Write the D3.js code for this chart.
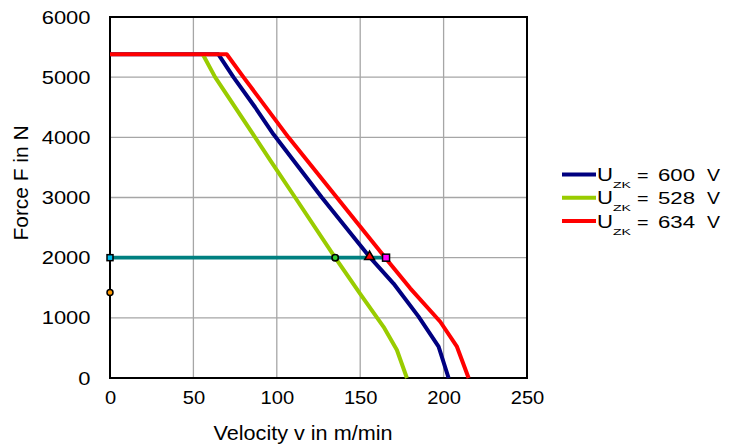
<!DOCTYPE html>
<html><head><meta charset="utf-8">
<script src="https://cdn.jsdelivr.net/npm/d3@7/dist/d3.min.js"></script>
<style>
html,body{margin:0;padding:0;background:#fff;}
svg{display:block;font-family:"Liberation Sans",Arial,sans-serif;}
</style></head>
<body>
<svg id="c" width="754" height="448"></svg>
<script>
// ---- data ----
const xTicks = [0, 50, 100, 150, 200, 250];
const yTicks = [0, 1000, 2000, 3000, 4000, 5000, 6000];
const seriesVolts = ["600", "528", "634"];
const seriesColors = ["#000080", "#99cc00", "#ff0000"];
const v600 = [0, 65, 74, 87, 98, 127, 156, 170, 185, 197, 203];
const F600 = [5380, 5380, 5000, 4500, 4050, 3000, 2000, 1570, 1020, 520, 0];
const v528 = [55.6, 63, 87, 96, 111, 135, 150, 164, 172, 178];
const F528 = [5380, 5000, 4000, 3620, 3000, 2000, 1400, 850, 465, 0];
const v634 = [0, 70, 80, 107, 136, 165, 180, 198, 208, 215];
const F634 = [5380, 5380, 5000, 4000, 3000, 2000, 1490, 935, 520, 0];
const opForce = 2000;
const opVel = [0, 165.5];
const markerV = [0, 0, 135, 155.6, 165.5];
const markerF = [2000, 1420, 2000, 2000, 2000];

// ---- layout ----
const svg = d3.select("#c");
const L = 110, R = 527, T = 17, B = 378;
const x = d3.scaleLinear().domain([0, 250]).range([L, R]);
const y = d3.scaleLinear().domain([0, 6000]).range([B, T]);

// grid
const g = svg.append("g");
g.selectAll(".gx").data(xTicks.slice(1, -1)).enter().append("line")
  .attr("x1", d => x(d)).attr("x2", d => x(d)).attr("y1", T).attr("y2", B)
  .attr("stroke", "#a6a6a6").attr("stroke-width", 1.3);
g.selectAll(".gy").data(yTicks.slice(1, -1)).enter().append("line")
  .attr("y1", d => y(d)).attr("y2", d => y(d)).attr("x1", L).attr("x2", R)
  .attr("stroke", "#a6a6a6").attr("stroke-width", 1.3);

// frame
svg.append("rect").attr("x", L).attr("y", T).attr("width", R - L).attr("height", B - T)
  .attr("fill", "none").attr("stroke", "#000").attr("stroke-width", 2);

// axes labels via d3 axes
const ax = svg.append("g").attr("transform", `translate(0,${B})`)
  .call(d3.axisBottom(x).tickValues(xTicks).tickSize(0).tickPadding(12.5).tickFormat(d3.format("d")));
ax.select(".domain").remove();
ax.selectAll("text").attr("font-size", 19).attr("fill", "#000")
  .attr("font-family", "Liberation Sans, Arial, sans-serif")
  .attr("textLength", d => String(d).length * 11.2).attr("lengthAdjust", "spacingAndGlyphs");

const ay = svg.append("g").attr("transform", `translate(${L},0)`)
  .call(d3.axisLeft(y).tickValues(yTicks).tickSize(0).tickPadding(19.5).tickFormat(d3.format("d")));
ay.select(".domain").remove();
ay.selectAll("text").attr("font-size", 19).attr("fill", "#000")
  .attr("font-family", "Liberation Sans, Arial, sans-serif")
  .attr("textLength", d => String(d).length * 12.2).attr("lengthAdjust", "spacingAndGlyphs");

// axis titles
svg.append("text").attr("x", 303).attr("y", 440).attr("text-anchor", "middle")
  .attr("font-size", 20).attr("textLength", 179).attr("lengthAdjust", "spacingAndGlyphs")
  .text("Velocity v in m/min");
svg.append("text").attr("transform", "translate(28,183) rotate(-90)").attr("text-anchor", "middle")
  .attr("font-size", 20).attr("textLength", 115).attr("lengthAdjust", "spacingAndGlyphs")
  .text("Force F in N");

// curves
const line = d3.line().x(d => x(d[0])).y(d => y(d[1]));
const data = [
  d3.zip(v600, F600),
  d3.zip(v528, F528),
  d3.zip(v634, F634)
];
// operating line
svg.append("path").datum(opVel.map(v => [v, opForce])).attr("d", line)
  .attr("fill", "none").attr("stroke", "#008080").attr("stroke-width", 3.8);

data.forEach((pts, i) => {
  svg.append("path").datum(pts).attr("d", line).attr("fill", "none")
    .attr("stroke", seriesColors[i]).attr("stroke-width", 4)
    .attr("stroke-linejoin", "round");
});

// markers
const mk = d3.zip(markerV, markerF);
const sq = (cx, cy, s, fill) => svg.append("rect").attr("x", cx - s / 2).attr("y", cy - s / 2)
  .attr("width", s).attr("height", s).attr("fill", fill).attr("stroke", "#000").attr("stroke-width", 1.5);
sq(x(mk[0][0]), y(mk[0][1]), 6, "#00c0f0");
svg.append("circle").attr("cx", x(mk[1][0])).attr("cy", y(mk[1][1])).attr("r", 3)
  .attr("fill", "#ff9900").attr("stroke", "#000").attr("stroke-width", 1.5);
svg.append("circle").attr("cx", x(mk[2][0])).attr("cy", y(mk[2][1])).attr("r", 3.2)
  .attr("fill", "#33cc33").attr("stroke", "#000").attr("stroke-width", 1.6);
svg.append("path").attr("d", d3.symbol().type(d3.symbolTriangle).size(40)())
  .attr("transform", `translate(${x(mk[3][0])},${y(mk[3][1]) - 1})`)
  .attr("fill", "#ff0000").attr("stroke", "#000").attr("stroke-width", 1.6);
sq(x(mk[4][0]), y(mk[4][1]), 7, "#ff00ff");

// legend
const legY = [174.5, 197.8, 221];
seriesVolts.forEach((volt, i) => {
  const ly = legY[i];
  svg.append("line").attr("x1", 562).attr("x2", 596).attr("y1", ly).attr("y2", ly)
    .attr("stroke", seriesColors[i]).attr("stroke-width", 4);
  svg.append("text").attr("x", 597).attr("y", ly + 6.5).attr("font-size", 19)
    .attr("textLength", 16).attr("lengthAdjust", "spacingAndGlyphs").text("U");
  svg.append("text").attr("x", 613).attr("y", ly + 13.5).attr("font-size", 9)
    .attr("textLength", 18).attr("lengthAdjust", "spacingAndGlyphs").text("ZK");
  svg.append("text").attr("x", 637).attr("y", ly + 6.5).attr("font-size", 16)
    .attr("textLength", 11.5).attr("lengthAdjust", "spacingAndGlyphs").text("=");
  svg.append("text").attr("x", 658).attr("y", ly + 6.5).attr("font-size", 16)
    .attr("textLength", 37).attr("lengthAdjust", "spacingAndGlyphs").text(volt);
  svg.append("text").attr("x", 707).attr("y", ly + 6.5).attr("font-size", 16)
    .attr("textLength", 13).attr("lengthAdjust", "spacingAndGlyphs").text("V");
});
</script>
</body></html>
